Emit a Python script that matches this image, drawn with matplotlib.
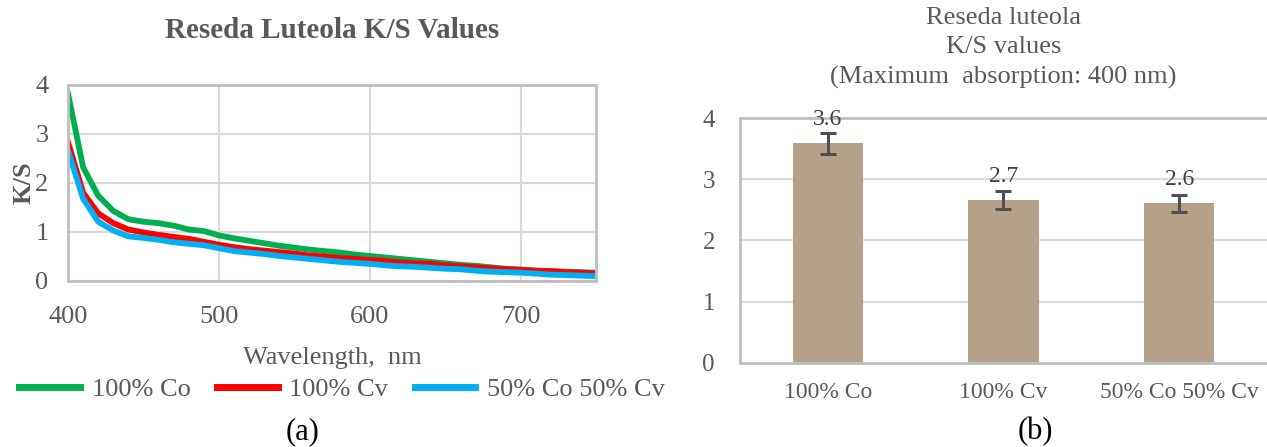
import numpy as np
import matplotlib
matplotlib.use('Agg')
import matplotlib.pyplot as plt
from matplotlib.lines import Line2D

plt.rcParams['font.family'] = ['Liberation Serif', 'DejaVu Serif']

# K/S spectra, 400-750 nm in 10 nm steps
wavelength = np.arange(400, 751, 10)
ks_co = [3.82, 2.32, 1.74, 1.43, 1.26, 1.21, 1.18, 1.13, 1.05, 1.02,
         0.93, 0.87, 0.82, 0.77, 0.72, 0.68, 0.64, 0.61, 0.58, 0.54,
         0.51, 0.48, 0.45, 0.42, 0.39, 0.36, 0.33, 0.31, 0.28, 0.25,
         0.23, 0.21, 0.20, 0.19, 0.18, 0.17]
ks_cv = [2.83, 1.80, 1.38, 1.18, 1.05, 0.99, 0.94, 0.90, 0.86, 0.80,
         0.74, 0.69, 0.65, 0.62, 0.59, 0.56, 0.52, 0.50, 0.47, 0.45,
         0.43, 0.41, 0.38, 0.36, 0.35, 0.32, 0.30, 0.28, 0.26, 0.24,
         0.23, 0.21, 0.20, 0.18, 0.17, 0.15]
ks_mix = [2.66, 1.68, 1.21, 1.03, 0.91, 0.88, 0.84, 0.79, 0.76, 0.73,
          0.67, 0.61, 0.58, 0.55, 0.51, 0.48, 0.45, 0.42, 0.39, 0.37,
          0.35, 0.32, 0.30, 0.29, 0.27, 0.25, 0.24, 0.21, 0.19, 0.18,
          0.17, 0.15, 0.13, 0.12, 0.11, 0.10]

# K/S at maximum absorption (400 nm)
samples = ['100% Co', '100% Cv', '50% Co 50% Cv']
ks_max = [3.59, 2.66, 2.61]
ks_err = [0.17, 0.14, 0.14]

txt = '#595959'
grid_c = '#D9D9D9'
frame_c = '#BFBFBF'
colors = ['#00B050', '#FF0000', '#00B0F0']

fig = plt.figure(figsize=(12.67, 4.47), dpi=100)

# (a) spectra
ax1 = fig.add_axes([0.0537, 0.3714, 0.4167, 0.4385])
ax1.plot(wavelength, ks_co, color=colors[0], lw=4.2)
ax1.plot(wavelength, ks_cv, color=colors[1], lw=4.2)
ax1.plot(wavelength, ks_mix, color=colors[2], lw=4.2)
ax1.set_xlim(400, 750)
ax1.set_ylim(0, 4)
ax1.set_xticks([400, 500, 600, 700])
ax1.set_yticks([0, 1, 2, 3, 4])
ax1.grid(True, color=grid_c, lw=1.5)
ax1.set_axisbelow(True)
for s in ax1.spines.values():
    s.set_color(frame_c)
    s.set_linewidth(2)
ax1.tick_params(length=0, labelsize=19, colors=txt)
ax1.tick_params(axis='x', pad=18)
ax1.tick_params(axis='y', pad=14)
ax1.set_xlabel('Wavelength,  nm', fontsize=19, color=txt, labelpad=14)
ax1.set_ylabel('K/S', fontsize=19, color=txt, fontweight='bold', labelpad=0)
ax1.set_title('Reseda Luteola K/S Values', fontsize=21, fontweight='bold',
              color=txt, pad=34)

handles = [Line2D([], [], color=c, lw=5) for c in colors]
leg = fig.legend(handles, samples,
                 loc='center', bbox_to_anchor=(0.27, 1 - 389 / 447), ncol=3,
                 frameon=False, fontsize=19, handlelength=2.3, columnspacing=1.0,
                 handletextpad=0.45)
for t in leg.get_texts():
    t.set_color(txt)

fig.text(303 / 1267, 1 - 432 / 447, '(a)', ha='center', va='center', fontsize=22)

# (b) bars at 400 nm
ax2 = fig.add_axes([0.584, 0.188, 0.416, 0.548])
pos = np.arange(len(samples))
ax2.bar(pos, ks_max, width=0.4, color='#B5A08A', zorder=2)
ax2.errorbar(pos, ks_max, yerr=ks_err, fmt='none', ecolor='#505050',
             elinewidth=2.2, capsize=6, capthick=2.2, zorder=3)
for x, v in zip(pos, ks_max):
    ax2.annotate(f'{v:.1f}', (x, v), xytext=(0, 17), textcoords='offset points',
                 ha='center', va='center', fontsize=17, color='#404040')
ax2.set_xlim(-0.5, 2.5)
ax2.set_ylim(0, 4)
ax2.set_yticks([0, 1, 2, 3, 4])
ax2.set_xticks(pos)
ax2.set_xticklabels(samples)
ax2.yaxis.grid(True, color=grid_c, lw=1.5)
ax2.set_axisbelow(True)
for s in ['left', 'top', 'bottom']:
    ax2.spines[s].set_color(frame_c)
    ax2.spines[s].set_linewidth(2)
ax2.spines['right'].set_visible(False)
ax2.tick_params(length=0, labelsize=18, colors=txt)
ax2.tick_params(axis='x', labelsize=17, pad=14)
ax2.tick_params(axis='y', pad=18)
ax2.set_title('Reseda luteola\nK/S values\n(Maximum  absorption: 400 nm)',
              fontsize=19, color=txt, pad=25, linespacing=1.42)

fig.text(1035 / 1267, 1 - 432 / 447, '(b)', ha='center', va='center', fontsize=22)

fig.savefig('out.png', dpi=100)
